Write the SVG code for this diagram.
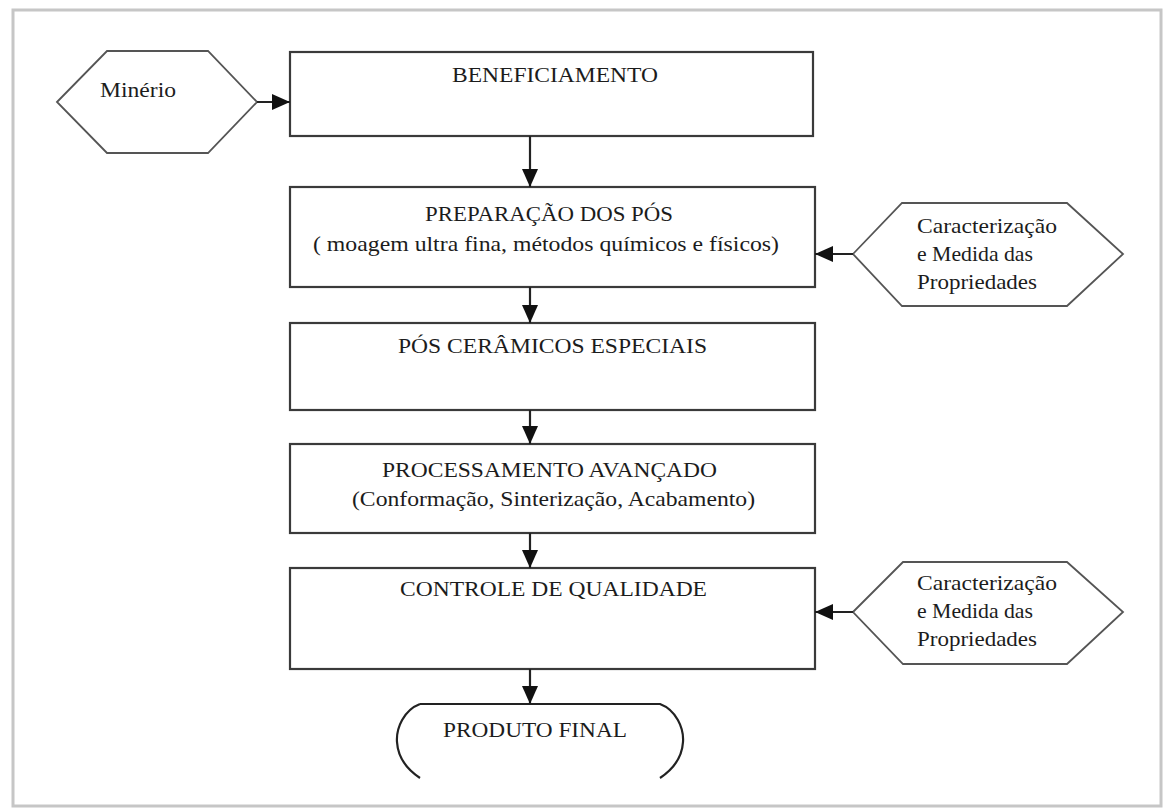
<svg xmlns="http://www.w3.org/2000/svg" width="1164" height="810" viewBox="0 0 1164 810">
<defs>
<marker id="arr" markerWidth="18" markerHeight="16" refX="18" refY="8" orient="auto" markerUnits="userSpaceOnUse">
<path d="M0,0 L18,8 L0,16 Z" fill="#111"/>
</marker>
<style>
.box{fill:#fff;stroke:#3a3a3a;stroke-width:2.2}
.hex{fill:#fff;stroke:#555;stroke-width:1.8}
.t{font-family:"Liberation Serif","Times New Roman",serif;font-size:21px;fill:#1c1c1c}
.h{font-family:"Liberation Serif","Times New Roman",serif;font-size:22px;fill:#1c1c1c}
.c{stroke:#222;stroke-width:2.2;fill:none}
</style>
</defs>
<rect x="0" y="0" width="1164" height="810" fill="#fff"/>
<rect x="13" y="10" width="1148" height="796" fill="#fff" stroke="#c6c6c6" stroke-width="3"/>

<g id="minerio">
<polygon class="hex" points="57,102 107,51 208,51 257,102 208,153 107,153"/>
<text class="h" x="100" y="97" textLength="76" lengthAdjust="spacingAndGlyphs">Minério</text>
</g>

<g id="beneficiamento">
<rect class="box" x="290" y="52" width="523" height="84"/>
<text class="t" x="452" y="82" textLength="206" lengthAdjust="spacingAndGlyphs">BENEFICIAMENTO</text>
</g>

<g id="preparacao">
<rect class="box" x="290" y="187" width="525" height="100"/>
<text class="t" x="425" y="221" textLength="248" lengthAdjust="spacingAndGlyphs">PREPARAÇÃO DOS PÓS</text>
<text class="t" x="313" y="251" textLength="466" lengthAdjust="spacingAndGlyphs">( moagem ultra fina, métodos químicos e físicos)</text>
</g>

<g id="caracterizacao1">
<polygon class="hex" points="853,254 902,203 1067,203 1123,254 1067,306 902,306"/>
<text class="h" x="917" y="233" textLength="140" lengthAdjust="spacingAndGlyphs">Caracterização</text>
<text class="h" x="917" y="261" textLength="116" lengthAdjust="spacingAndGlyphs">e Medida das</text>
<text class="h" x="917" y="289" textLength="120" lengthAdjust="spacingAndGlyphs">Propriedades</text>
</g>

<g id="pos-ceramicos">
<rect class="box" x="290" y="323" width="525" height="87"/>
<text class="t" x="398" y="353" textLength="309" lengthAdjust="spacingAndGlyphs">PÓS CERÂMICOS ESPECIAIS</text>
</g>

<g id="processamento">
<rect class="box" x="290" y="444" width="525" height="89"/>
<text class="t" x="382" y="477" textLength="335" lengthAdjust="spacingAndGlyphs">PROCESSAMENTO AVANÇADO</text>
<text class="t" x="352" y="506" textLength="403" lengthAdjust="spacingAndGlyphs">(Conformação, Sinterização, Acabamento)</text>
</g>

<g id="controle">
<rect class="box" x="290" y="568" width="525" height="101"/>
<text class="t" x="400" y="596" textLength="307" lengthAdjust="spacingAndGlyphs">CONTROLE DE QUALIDADE</text>
</g>

<g id="caracterizacao2">
<polygon class="hex" points="853,612 903,562 1067,562 1123,612 1067,664 903,664"/>
<text class="h" x="917" y="590" textLength="140" lengthAdjust="spacingAndGlyphs">Caracterização</text>
<text class="h" x="917" y="618" textLength="116" lengthAdjust="spacingAndGlyphs">e Medida das</text>
<text class="h" x="917" y="646" textLength="120" lengthAdjust="spacingAndGlyphs">Propriedades</text>
</g>

<g id="produto-final">
<path class="c" d="M420,704 L660,704 C676,710 684,728 683,742 C682,758 672,770 660,778 M420,704 C404,710 396,728 397,742 C398,758 408,770 420,778" stroke="#444"/>
<text class="t" x="443" y="737" textLength="184" lengthAdjust="spacingAndGlyphs">PRODUTO FINAL</text>
</g>

<g id="connectors">
<line class="c" x1="257" y1="102" x2="290" y2="102" marker-end="url(#arr)"/>
<line class="c" x1="530" y1="136" x2="530" y2="187" marker-end="url(#arr)"/>
<line class="c" x1="530" y1="287" x2="530" y2="323" marker-end="url(#arr)"/>
<line class="c" x1="530" y1="410" x2="530" y2="444" marker-end="url(#arr)"/>
<line class="c" x1="530" y1="533" x2="530" y2="568" marker-end="url(#arr)"/>
<line class="c" x1="530" y1="669" x2="530" y2="704" marker-end="url(#arr)"/>
<line class="c" x1="853" y1="254" x2="815" y2="254" marker-end="url(#arr)"/>
<line class="c" x1="853" y1="612" x2="815" y2="612" marker-end="url(#arr)"/>
</g>
</svg>
